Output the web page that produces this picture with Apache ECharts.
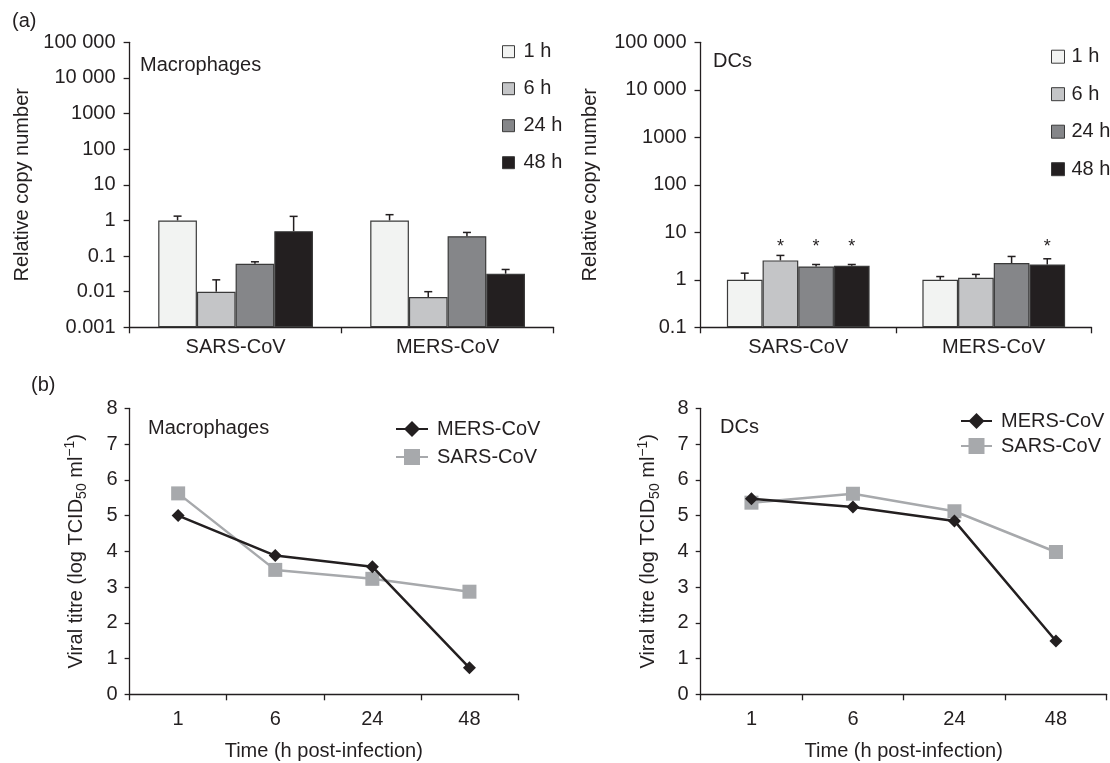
<!DOCTYPE html>
<html><head><meta charset="utf-8">
<script src="https://cdn.jsdelivr.net/npm/echarts@6/dist/echarts.min.js"></script>
<style>html,body{margin:0;padding:0;background:#fff}#c{width:1110px;height:763px}</style>
</head><body><div id="c"></div>
<script>
// ---------- data ----------
const virusCats = ['SARS-CoV', 'MERS-CoV'];
const timeNames = ['1 h', '6 h', '24 h', '48 h'];
const macTickLabels = ['0.001', '0.01', '0.1', '1', '10', '100', '1000', '10 000', '100 000'];
const dcTickLabels = ['0.1', '1', '10', '100', '1000', '10 000', '100 000'];

// (a) Macrophages: relative copy number [SARS, MERS] and error-bar tops
const mac1h = [1.0, 1.0];       const mac1hErr = [1.32, 1.45];
const mac6h = [0.01, 0.0071];   const mac6hErr = [0.0215, 0.01];
const mac24h = [0.061, 0.36];   const mac24hErr = [0.069, 0.46];
const mac48h = [0.50, 0.032];   const mac48hErr = [1.30, 0.042];

// (a) DCs
const dc1h = [1.0, 1.0];        const dc1hErr = [1.38, 1.17];
const dc6h = [2.56, 1.1];       const dc6hErr = [3.26, 1.3];
const dc24h = [1.91, 2.25];     const dc24hErr = [2.1, 3.1];
const dc48h = [1.98, 2.1];      const dc48hErr = [2.1, 2.77];
const dc1hStar = [0, 0];
const dc6hStar = [1, 0];
const dc24hStar = [1, 0];
const dc48hStar = [1, 1];
const starLevel = 5.0;

// (b) viral titres
const timeCats = ['1', '6', '24', '48'];
const macMERS = [5.0, 3.88, 3.57, 0.74];
const macSARS = [5.62, 3.48, 3.23, 2.87];
const dcMERS = [5.47, 5.24, 4.85, 1.49];
const dcSARS = [5.36, 5.61, 5.12, 3.98];

// ---------- styling ----------
const FONT = 'Liberation Sans, Arial, Helvetica, sans-serif';
const INK = '#231f20';
const barColors = ['#f2f3f2', '#c4c5c7', '#858689', '#231f20'];
const GROUP_FRAC = 0.73;

const macVals = [mac1h, mac6h, mac24h, mac48h];
const macErrs = [mac1hErr, mac6hErr, mac24hErr, mac48hErr];
const dcVals = [dc1h, dc6h, dc24h, dc48h];
const dcErrs = [dc1hErr, dc6hErr, dc24hErr, dc48hErr];
const dcStars = [dc1hStar, dc6hStar, dc24hStar, dc48hStar];

function errData(vals, errs, stars) {
  const out = [];
  vals.forEach((arr, s) => arr.forEach((v, c) => {
    out.push([c, s, v, errs[s][c], stars ? stars[s][c] : 0]);
  }));
  return out;
}

function errRender(params, api) {
  const c = api.value(0), s = api.value(1), v = api.value(2), e = api.value(3), st = api.value(4);
  const p0 = api.coord([c, v]);
  const band = api.coord([1, v])[0] - api.coord([0, v])[0];
  const bw = Math.abs(band) * GROUP_FRAC / 4;
  const cx = p0[0] + (s - 1.5) * bw;
  const ye = api.coord([c, e])[1];
  const children = [
    { type: 'line', shape: { x1: cx, y1: p0[1], x2: cx, y2: ye }, style: { stroke: INK, lineWidth: 1.5 } },
    { type: 'line', shape: { x1: cx - 4, y1: ye, x2: cx + 4, y2: ye }, style: { stroke: INK, lineWidth: 1.5 } }
  ];
  if (st) {
    const ys = api.coord([c, starLevel])[1];
    children.push({ type: 'text', x: cx, y: ys, style: { text: '*', font: '18px ' + FONT, fill: INK, align: 'center', verticalAlign: 'middle' } });
  }
  return { type: 'group', children };
}

const axisLine = { show: true, lineStyle: { color: INK, width: 1.3 } };
const labelStyle = { color: INK, fontSize: 20, fontFamily: FONT };

function barSeries(vals, gi) {
  return vals.map((arr, s) => ({
    name: timeNames[s], type: 'bar', xAxisIndex: gi, yAxisIndex: gi,
    data: arr, barGap: '0%', barCategoryGap: '27%',
    itemStyle: { color: barColors[s], borderColor: '#3a3a3a', borderWidth: 1.2 }
  }));
}

function lineSeries(mers, sars, gi) {
  return [
    { name: 'MERS-CoV', type: 'line', xAxisIndex: gi, yAxisIndex: gi, data: mers,
      symbol: 'diamond', symbolSize: 13, lineStyle: { color: INK, width: 2.5 },
      itemStyle: { color: INK }, z: 3 },
    { name: 'SARS-CoV', type: 'line', xAxisIndex: gi, yAxisIndex: gi, data: sars,
      symbol: 'rect', symbolSize: 14, lineStyle: { color: '#a7a9ac', width: 2.5 },
      itemStyle: { color: '#a7a9ac' }, z: 2 }
  ];
}

const yRich = {
  sub: { fontSize: 14, lineHeight: 13, verticalAlign: 'bottom', fontFamily: FONT, color: INK },
  sup: { fontSize: 14, lineHeight: 13, verticalAlign: 'top', fontFamily: FONT, color: INK }
};

const option = {
  animation: false,
  backgroundColor: '#fff',
  textStyle: { fontFamily: FONT, color: INK },
  grid: [
    { left: 129.6, top: 42.3, width: 424, height: 285 },
    { left: 700.5, top: 42.3, width: 391, height: 285 },
    { left: 129.6, top: 408.3, width: 388.4, height: 286 },
    { left: 700.7, top: 408.3, width: 406, height: 286 }
  ],
  xAxis: [0, 1].map(i => ({
    gridIndex: i, type: 'category', data: virusCats,
    axisLine, axisTick: { show: true, length: 6, lineStyle: { color: INK, width: 1.3 } },
    axisLabel: Object.assign({ margin: 10 }, labelStyle)
  })).concat([2, 3].map(i => ({
    gridIndex: i, type: 'category', data: timeCats,
    axisLine, axisTick: { show: true, length: 6, lineStyle: { color: INK, width: 1.3 } },
    axisLabel: Object.assign({ margin: 15 }, labelStyle),
    name: 'Time (h post-infection)', nameLocation: 'middle', nameGap: 47,
    nameTextStyle: { fontSize: 20, color: INK, fontFamily: FONT }
  }))),
  yAxis: [
    { gridIndex: 0, type: 'log', logBase: 10, min: 0.001, max: 100000, splitNumber: 8, startValue: 0.001,
      axisLine, axisTick: { show: true, length: 6, lineStyle: { color: INK, width: 1.3 } },
      splitLine: { show: false },
      axisLabel: Object.assign({ margin: 14, formatter: v => macTickLabels[Math.round(Math.log10(v)) + 3] }, labelStyle),
      name: 'Relative copy number', nameLocation: 'middle', nameGap: 96,
      nameTextStyle: { fontSize: 20, lineHeight: 22, color: INK, fontFamily: FONT } },
    { gridIndex: 1, type: 'log', logBase: 10, min: 0.1, max: 100000, splitNumber: 6, startValue: 0.1,
      axisLine, axisTick: { show: true, length: 6, lineStyle: { color: INK, width: 1.3 } },
      splitLine: { show: false },
      axisLabel: Object.assign({ margin: 14, formatter: v => dcTickLabels[Math.round(Math.log10(v)) + 1] }, labelStyle),
      name: 'Relative copy number', nameLocation: 'middle', nameGap: 99,
      nameTextStyle: { fontSize: 20, lineHeight: 22, color: INK, fontFamily: FONT } },
    { gridIndex: 2, type: 'value', min: 0, max: 8, interval: 1,
      axisLine, axisTick: { show: true, length: 5, lineStyle: { color: INK, width: 1.3 } },
      splitLine: { show: false },
      axisLabel: Object.assign({ margin: 12 }, labelStyle),
      name: 'Viral titre (log TCID{sub|50} ml{sup|−1})', nameLocation: 'middle', nameGap: 40,
      nameTextStyle: { fontSize: 20, lineHeight: 26, color: INK, fontFamily: FONT, rich: yRich } },
    { gridIndex: 3, type: 'value', min: 0, max: 8, interval: 1,
      axisLine, axisTick: { show: true, length: 5, lineStyle: { color: INK, width: 1.3 } },
      splitLine: { show: false },
      axisLabel: Object.assign({ margin: 12 }, labelStyle),
      name: 'Viral titre (log TCID{sub|50} ml{sup|−1})', nameLocation: 'middle', nameGap: 39,
      nameTextStyle: { fontSize: 20, lineHeight: 26, color: INK, fontFamily: FONT, rich: yRich } }
  ],
  legend: [
    { data: timeNames, orient: 'vertical', left: 502, top: 41.7, padding: 0, itemGap: 17,
      itemWidth: 12, itemHeight: 12, icon: 'rect',
      itemStyle: { borderColor: '#3a3a3a', borderWidth: 1 },
      textStyle: { fontSize: 20, color: INK, fontFamily: FONT, padding: [0, 0, 0, 4] } },
    { data: timeNames, orient: 'vertical', left: 1051, top: 46.7, padding: 0, itemGap: 17.5,
      itemWidth: 13, itemHeight: 13, icon: 'rect',
      itemStyle: { borderColor: '#3a3a3a', borderWidth: 1 },
      textStyle: { fontSize: 20, color: INK, fontFamily: FONT, padding: [0, 0, 0, 2] } },
    { data: ['MERS-CoV', 'SARS-CoV'], orient: 'vertical', left: 395, top: 419, padding: 0, itemGap: 8,
      itemWidth: 32, itemHeight: 20,
      textStyle: { fontSize: 20, color: INK, fontFamily: FONT, padding: [0, 0, 0, 4] } },
    { data: ['MERS-CoV', 'SARS-CoV'], orient: 'vertical', left: 960, top: 411, padding: 0, itemGap: 5,
      itemWidth: 31, itemHeight: 20,
      textStyle: { fontSize: 20, color: INK, fontFamily: FONT, padding: [0, 0, 0, 4] } }
  ],
  graphic: [
    { type: 'text', x: 12, y: 21, style: { text: '(a)', font: '20px ' + FONT, fill: INK, verticalAlign: 'middle' } },
    { type: 'text', x: 31, y: 385, style: { text: '(b)', font: '20px ' + FONT, fill: INK, verticalAlign: 'middle' } },
    { type: 'text', x: 140, y: 65, style: { text: 'Macrophages', font: '20px ' + FONT, fill: INK, verticalAlign: 'middle' } },
    { type: 'text', x: 713, y: 61.7, style: { text: 'DCs', font: '20px ' + FONT, fill: INK, verticalAlign: 'middle' } },
    { type: 'text', x: 148, y: 428, style: { text: 'Macrophages', font: '20px ' + FONT, fill: INK, verticalAlign: 'middle' } },
    { type: 'text', x: 720, y: 427, style: { text: 'DCs', font: '20px ' + FONT, fill: INK, verticalAlign: 'middle' } }
  ],
  series: [].concat(
    barSeries(macVals, 0),
    barSeries(dcVals, 1),
    [
      { type: 'custom', name: 'macErr', xAxisIndex: 0, yAxisIndex: 0, renderItem: errRender,
        encode: { x: 0, y: [2, 3] }, data: errData(macVals, macErrs, null), z: 5 },
      { type: 'custom', name: 'dcErr', xAxisIndex: 1, yAxisIndex: 1, renderItem: errRender,
        encode: { x: 0, y: [2, 3] }, data: errData(dcVals, dcErrs, dcStars), z: 5 }
    ],
    lineSeries(macMERS, macSARS, 2),
    lineSeries(dcMERS, dcSARS, 3)
  )
};

const chart = echarts.init(document.getElementById('c'), null, { renderer: 'canvas' });
chart.setOption(option);
</script>
</body></html>
